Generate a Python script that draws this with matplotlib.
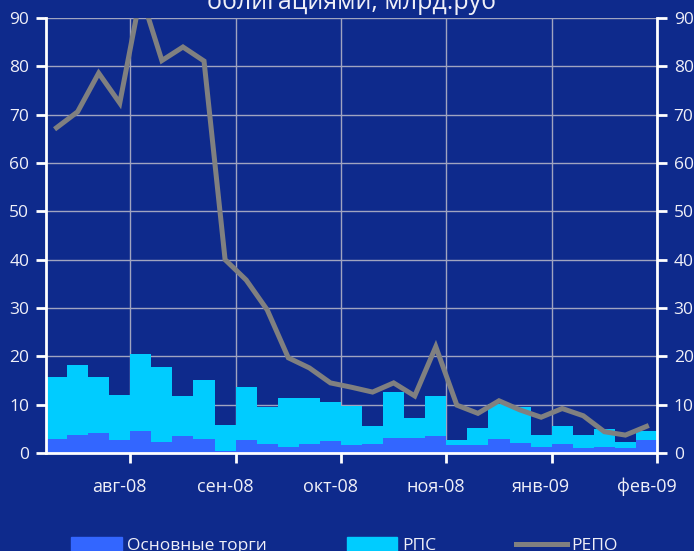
import matplotlib
matplotlib.use("Agg")
import matplotlib.pyplot as plt
import numpy as np
from matplotlib.patches import Patch
from matplotlib.lines import Line2D

# данные (недели)
osn = [2.9, 3.7, 4.1, 2.7, 4.5, 2.3, 3.5, 2.9, 0.4, 2.7, 1.9, 1.2, 1.9, 2.5, 1.6,
       1.8, 3.1, 3.1, 3.5, 1.6, 1.6, 2.9, 2.1, 1.2, 1.8, 1.0, 1.2, 1.0, 2.7]
rps = [12.8, 14.5, 11.6, 9.3, 16.0, 15.5, 8.3, 12.2, 5.4, 11.0, 7.6, 10.2, 9.5, 8.1, 8.1,
       3.7, 9.5, 4.1, 8.3, 1.1, 3.6, 7.2, 7.4, 2.5, 3.7, 2.7, 3.8, 1.3, 1.8]
repo = [67.3, 70.6, 78.6, 72.4, 95.0, 81.2, 84.0, 81.1, 40.0, 35.8, 29.6, 19.7, 17.6, 14.5, 13.6,
        12.6, 14.5, 11.8, 22.0, 9.9, 8.2, 10.8, 8.9, 7.4, 9.2, 7.7, 4.4, 3.7, 5.5]
month_labels = ['авг-08', 'сен-08', 'окт-08', 'ноя-08', 'янв-09', 'фев-09']
label_idx = [3, 8, 13, 18, 23, 28]

bg = '#0E2A8C'
fg = '#F0F0F8'
plt.rcParams['font.family'] = ['Open Sans', 'DejaVu Sans']

fig = plt.figure(figsize=(6.94, 5.51), dpi=100, facecolor=bg)
ax = fig.add_axes([0.0663, 0.1779, 0.8804, 0.7894], facecolor=bg)

x = np.arange(len(osn))
ax.bar(x, osn, width=1.0, color='#3366FF', zorder=2)
ax.bar(x, rps, width=1.0, bottom=osn, color='#00CCFF', zorder=2)
ax.plot(x, repo, color='#808080', lw=3.6, solid_joinstyle='miter', zorder=3)

ax.set_xlim(-0.5, len(osn) - 0.5)
ax.set_ylim(0, 90)
ax.set_yticks(range(0, 91, 10))

# месячные деления на границах, подписи по центру недели
ax.set_xticks([i + 0.5 for i in label_idx])
ax.set_xticklabels([])
ax.set_xticks(label_idx, minor=True)
ax.set_xticklabels(month_labels, minor=True)
ax.tick_params(axis='x', which='minor', length=0, pad=18, labelsize=13, colors=fg)
ax.tick_params(axis='x', which='major', length=7, width=2, color='white', direction='out')
ax.tick_params(axis='y', length=7, width=2, color='white', labelsize=12.5, labelcolor=fg,
               pad=5, right=True, labelright=True)

ax.grid(True, which='major', color='#A0A4C0', lw=1, zorder=1)
for s in ['left', 'right', 'bottom']:
    ax.spines[s].set_color('white')
    ax.spines[s].set_linewidth(2)
    ax.spines[s].set_zorder(4)
ax.spines['top'].set_visible(False)

fig.text(0.506, 0.983, 'облигациями, млрд.руб', color=fg, fontsize=18,
         ha='center', va='baseline')

handles = [Patch(color='#3366FF'), Patch(color='#00CCFF'),
           Line2D([], [], color='#808080', lw=3.6)]
fig.legend(handles, ['Основные торги', 'РПС', 'РЕПО'], loc='lower left',
           bbox_to_anchor=(0.103, -0.006), ncol=3, frameon=False, fontsize=12.5,
           labelcolor=fg, handlelength=2.9, handleheight=0.9, handletextpad=0.3,
           columnspacing=4.6, borderpad=0, borderaxespad=0)

fig.savefig('out.png', dpi=100, facecolor=bg)
